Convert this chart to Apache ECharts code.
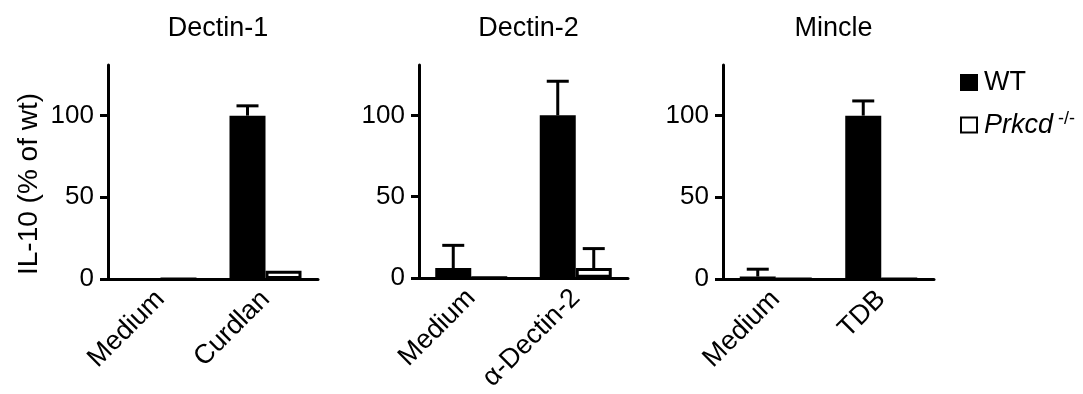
<!DOCTYPE html>
<html>
<head>
<meta charset="utf-8">
<script src="https://cdn.jsdelivr.net/npm/echarts@6/dist/echarts.min.js"></script>
<style>
  html, body { margin: 0; padding: 0; background: #fff; }
  #chart { width: 1083px; height: 394px; }
</style>
</head>
<body>
<div id="chart"></div>
<script>
// panel data
const panelTitles = ["Dectin-1", "Dectin-2", "Mincle"];
const categories = [
  ["Medium", "Curdlan"],
  ["Medium", "α-Dectin-2"],
  ["Medium", "TDB"],
];
const wtMean = [[0, 100], [6, 100], [1.5, 100]];
const wtUpper = [[0, 106], [20, 121], [6, 109]];
const koMean = [[0, 5], [0, 6], [0, 0]];
const koUpper = [[0, 5], [0, 18], [0, 0]];
const yTicks = [0, 50, 100];

const FONT = "'Liberation Sans', Arial, sans-serif";
const BAR_W = 36;

const gridBox = [
  { left: 108, width: 210 },
  { left: 419, width: 209 },
  { left: 723, width: 211 },
];

const chart = echarts.init(document.getElementById("chart"));

// error bar drawn with the value axis coordinates
function errorSeries(idx, upper, mean, shift) {
  return {
    type: "custom",
    xAxisIndex: idx,
    yAxisIndex: idx,
    z: 5,
    silent: true,
    data: upper.map((u, i) => [i, mean[i], u]),
    renderItem: (params, api) => {
      const lo = api.coord([api.value(0), api.value(1)]);
      const hi = api.coord([api.value(0), api.value(2)]);
      if (hi[1] >= lo[1] - 0.5) return null;
      const x = lo[0] + shift;
      const style = { stroke: "#000", lineWidth: 3 };
      return {
        type: "group",
        children: [
          { type: "line", shape: { x1: x, y1: lo[1], x2: x, y2: hi[1] }, style },
          { type: "line", shape: { x1: x - 11, y1: hi[1], x2: x + 11, y2: hi[1] }, style },
        ],
      };
    },
  };
}

const grids = [], xAxes = [], yAxes = [], titles = [], series = [];

panelTitles.forEach((t, i) => {
  grids.push({ left: gridBox[i].left, width: gridBox[i].width, top: 65, bottom: 115 });
  titles.push({
    text: t,
    left: gridBox[i].left + gridBox[i].width / 2,
    top: 10,
    textAlign: "center",
    textStyle: { fontFamily: FONT, fontSize: 27, fontWeight: "normal", color: "#000" },
  });
  xAxes.push({
    type: "category",
    gridIndex: i,
    data: categories[i],
    axisLine: { lineStyle: { color: "#000", width: 3 } },
    axisTick: { length: 7, lineStyle: { color: "#000", width: 3 } },
    axisLabel: {
      rotate: 45,
      margin: 16,
      interval: 0,
      color: "#000",
      fontFamily: FONT,
      fontSize: 27,
    },
  });
  yAxes.push({
    type: "value",
    gridIndex: i,
    min: 0,
    max: 131,
    interval: 50,
    name: i === 0 ? "IL-10 (% of wt)" : "",
    nameLocation: "middle",
    nameGap: 65,
    nameTextStyle: { fontFamily: FONT, fontSize: 28, color: "#000", padding: [0, 24, 0, 0] },
    axisLine: { show: true, lineStyle: { color: "#000", width: 3 } },
    axisTick: { show: true, length: 8, customValues: yTicks, lineStyle: { color: "#000", width: 3 } },
    axisLabel: { customValues: yTicks, margin: 14, color: "#000", fontFamily: FONT, fontSize: 26 },
    splitLine: { show: false },
  });
  series.push({
    name: "WT",
    type: "bar",
    xAxisIndex: i,
    yAxisIndex: i,
    barWidth: BAR_W,
    barGap: "0%",
    data: wtMean[i],
    itemStyle: { color: "#000", borderColor: "#000", borderWidth: 2 },
  });
  series.push({
    name: "Prkcd",
    type: "bar",
    xAxisIndex: i,
    yAxisIndex: i,
    barWidth: BAR_W,
    barGap: "0%",
    data: koMean[i],
    itemStyle: { color: "#fff", borderColor: "#000", borderWidth: 3 },
  });
  series.push(errorSeries(i, wtUpper[i], wtMean[i], -BAR_W / 2));
  series.push(errorSeries(i, koUpper[i], koMean[i], BAR_W / 2));
});

chart.setOption({
  animation: false,
  title: titles,
  grid: grids,
  xAxis: xAxes,
  yAxis: yAxes,
  legend: {
    data: ["WT", "Prkcd"],
    orient: "vertical",
    left: 955,
    top: 64,
    itemWidth: 16,
    itemHeight: 15,
    itemGap: 14,
    icon: "rect",
    selectedMode: false,
    formatter: (name) => (name === "WT" ? "WT" : "{i|Prkcd}{s|-/-}"),
    textStyle: {
      fontFamily: FONT,
      fontSize: 27,
      color: "#000",
      padding: [0, 0, 0, 2],
      rich: {
        i: { fontFamily: FONT, fontSize: 27, fontStyle: "italic", color: "#000" },
        s: { fontFamily: FONT, fontSize: 18, color: "#000", verticalAlign: "top", padding: [0, 0, 12, 5] },
      },
    },
  },
  series: series,
});
</script>
</body>
</html>
